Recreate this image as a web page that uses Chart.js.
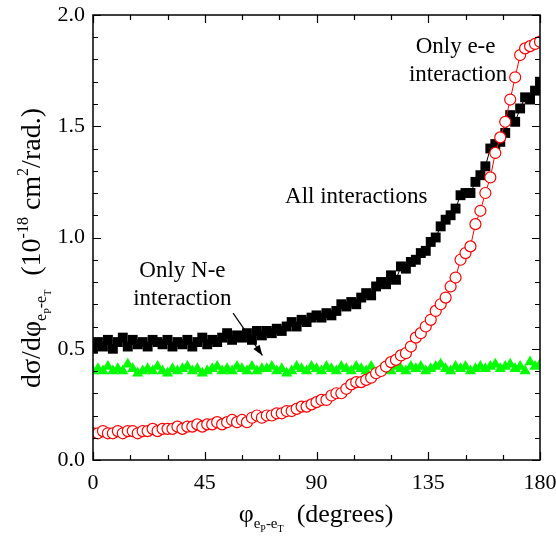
<!DOCTYPE html>
<html>
<head>
<meta charset="utf-8">
<script src="https://cdn.jsdelivr.net/npm/chart.js@4/dist/chart.umd.min.js"></script>
<style>
  body { margin: 0; background: #fff; }
  #wrap { width: 556px; height: 540px; }
</style>
</head>
<body>
<div id="wrap"><canvas id="c"></canvas></div>
<script>
const angles = [0, 2, 4, 6, 8, 10, 12, 14, 16, 18, 20, 22, 24, 26, 28, 30, 32, 34, 36, 38,
  40, 42, 44, 46, 48, 50, 52, 54, 56, 58, 60, 62, 64, 66, 68, 70, 72, 74, 76, 78,
  80, 82, 84, 86, 88, 90, 92, 94, 96, 98, 100, 102, 104, 106, 108, 110, 112, 114, 116, 118,
  120, 122, 124, 126, 128, 130, 132, 134, 136, 138, 140, 142, 144, 146, 148, 150, 152, 154, 156, 158,
  160, 162, 164, 166, 168, 170, 172, 174, 176, 178, 180];

const allInteractions = [0.50, 0.53, 0.51, 0.54, 0.50, 0.53, 0.55, 0.51, 0.54, 0.52, 0.53, 0.51, 0.54, 0.53, 0.52, 0.54, 0.51, 0.53, 0.52, 0.54,
  0.51, 0.53, 0.55, 0.52, 0.54, 0.53, 0.55, 0.57, 0.54, 0.56, 0.55, 0.57, 0.54, 0.58, 0.56, 0.58, 0.57, 0.59, 0.58, 0.60,
  0.62, 0.60, 0.63, 0.62, 0.64, 0.65, 0.64, 0.66, 0.65, 0.67, 0.70, 0.69, 0.71, 0.70, 0.73, 0.75, 0.74, 0.78, 0.80, 0.79,
  0.83, 0.81, 0.87, 0.86, 0.89, 0.90, 0.93, 0.94, 0.98, 1.00, 1.05, 1.08, 1.10, 1.13, 1.19, 1.20, 1.20, 1.25, 1.28, 1.32,
  1.40, 1.42, 1.43, 1.47, 1.55, 1.52, 1.58, 1.63, 1.62, 1.66, 1.70];

const onlyEE = [0.12, 0.12, 0.13, 0.12, 0.12, 0.13, 0.12, 0.13, 0.13, 0.12, 0.13, 0.13, 0.14, 0.13, 0.14, 0.14, 0.14, 0.15, 0.14, 0.15,
  0.15, 0.16, 0.15, 0.16, 0.16, 0.17, 0.16, 0.17, 0.18, 0.17, 0.18, 0.17, 0.19, 0.20, 0.19, 0.20, 0.20, 0.21, 0.21, 0.22,
  0.22, 0.23, 0.24, 0.24, 0.25, 0.26, 0.27, 0.27, 0.29, 0.30, 0.30, 0.32, 0.34, 0.35, 0.35, 0.36, 0.37, 0.39, 0.40, 0.42,
  0.44, 0.45, 0.47, 0.48, 0.51, 0.55, 0.57, 0.60, 0.63, 0.67, 0.70, 0.73, 0.78, 0.82, 0.90, 0.93, 0.96, 1.06, 1.12, 1.20,
  1.27, 1.38, 1.45, 1.52, 1.62, 1.72, 1.82, 1.85, 1.86, 1.87, 1.88];

const onlyNE = [0.40, 0.41, 0.40, 0.42, 0.40, 0.41, 0.40, 0.43, 0.41, 0.39, 0.40, 0.41, 0.40, 0.42, 0.40, 0.39, 0.41, 0.40, 0.41, 0.42,
  0.40, 0.41, 0.39, 0.40, 0.41, 0.42, 0.40, 0.41, 0.40, 0.42, 0.41, 0.40, 0.42, 0.40, 0.41, 0.41, 0.42, 0.40, 0.41, 0.39,
  0.40, 0.42, 0.41, 0.40, 0.42, 0.41, 0.40, 0.42, 0.41, 0.40, 0.42, 0.41, 0.40, 0.42, 0.41, 0.40, 0.42, 0.39, 0.41, 0.42,
  0.40, 0.42, 0.41, 0.40, 0.42, 0.41, 0.42, 0.40, 0.41, 0.42, 0.43, 0.41, 0.40, 0.42, 0.41, 0.42, 0.40, 0.41, 0.42, 0.41,
  0.42, 0.43, 0.41, 0.42, 0.43, 0.41, 0.42, 0.40, 0.44, 0.42, 0.43];

const xTicks = [0, 45, 90, 135, 180];
const yTicks = [0.0, 0.5, 1.0, 1.5, 2.0];

const FONT = '"Liberation Serif", "Times New Roman", serif';

function pts(ys) {
  return ys.map((y, i) => ({ x: angles[i], y: y }));
}

// draw text made of pieces (sub/superscripts) centred on x
function drawRich(ctx, x, y, segs) {
  let w = 0;
  segs.forEach(s => { ctx.font = s.s + 'px ' + FONT; w += ctx.measureText(s.t).width; });
  let cx = x - w / 2;
  ctx.textAlign = 'left';
  ctx.textBaseline = 'alphabetic';
  segs.forEach(s => {
    ctx.font = s.s + 'px ' + FONT;
    ctx.fillText(s.t, cx, y + s.dy);
    cx += ctx.measureText(s.t).width;
  });
}

const decor = {
  id: 'decor',
  afterDatasetsDraw(chart) {
    const ctx = chart.ctx;
    const xs = chart.scales.x, ys = chart.scales.y;
    const a = chart.chartArea;
    ctx.save();
    ctx.strokeStyle = '#000';
    ctx.fillStyle = '#000';
    ctx.lineWidth = 1.5;
    ctx.strokeRect(a.left, a.top, a.right - a.left, a.bottom - a.top);

    // inward ticks on all four sides
    ctx.lineWidth = 1.2;
    ctx.beginPath();
    for (let v = 0; v <= 180; v += 15) {
      const px = Math.round(xs.getPixelForValue(v)) + 0.5;
      const len = v % 45 === 0 ? 8 : 5;
      ctx.moveTo(px, a.bottom); ctx.lineTo(px, a.bottom - len);
      ctx.moveTo(px, a.top); ctx.lineTo(px, a.top + len);
    }
    for (let k = 0; k <= 20; k++) {
      const py = Math.round(ys.getPixelForValue(k / 10)) + 0.5;
      const len = k % 5 === 0 ? 8 : 5;
      ctx.moveTo(a.left, py); ctx.lineTo(a.left + len, py);
      ctx.moveTo(a.right, py); ctx.lineTo(a.right - len, py);
    }
    ctx.stroke();

    // annotations
    ctx.textAlign = 'center';
    ctx.textBaseline = 'middle';
    ctx.font = '23px ' + FONT;
    const lab = (t, xv, yv) => ctx.fillText(t, xs.getPixelForValue(xv), ys.getPixelForValue(yv));
    lab('Only e-e', 146, 1.855);
    lab('interaction', 147, 1.73);
    lab('All interactions', 106, 1.18);
    lab('Only N-e', 36, 0.85);
    lab('interaction', 36, 0.725);

    // arrow
    const x0 = xs.getPixelForValue(56.4), y0 = ys.getPixelForValue(0.66);
    const x1 = xs.getPixelForValue(68.2), y1 = ys.getPixelForValue(0.47);
    ctx.lineWidth = 1.2;
    ctx.beginPath(); ctx.moveTo(x0, y0); ctx.lineTo(x1, y1); ctx.stroke();
    const ang = Math.atan2(y1 - y0, x1 - x0);
    ctx.beginPath();
    ctx.moveTo(x1, y1);
    ctx.lineTo(x1 - 11 * Math.cos(ang - 0.35), y1 - 11 * Math.sin(ang - 0.35));
    ctx.lineTo(x1 - 11 * Math.cos(ang + 0.35), y1 - 11 * Math.sin(ang + 0.35));
    ctx.closePath(); ctx.fill();

    // axis titles
    drawRich(ctx, 316, 522, [
      { t: 'φ', s: 26, dy: 0 },
      { t: 'e', s: 15, dy: 6 }, { t: 'P', s: 10, dy: 10 },
      { t: '-e', s: 15, dy: 6 }, { t: 'T', s: 10, dy: 10 },
      { t: '  (degrees)', s: 26, dy: 0 }
    ]);
    ctx.save();
    ctx.translate(40, 248);
    ctx.rotate(-Math.PI / 2);
    drawRich(ctx, 0, 0, [
      { t: 'dσ/dφ', s: 28, dy: 0 },
      { t: 'e', s: 16, dy: 6 }, { t: 'P', s: 10, dy: 11 },
      { t: '-e', s: 16, dy: 6 }, { t: 'T', s: 10, dy: 11 },
      { t: '  (10', s: 28, dy: 0 }, { t: '-18', s: 16, dy: -12 },
      { t: ' cm', s: 28, dy: 0 }, { t: '2', s: 16, dy: -12 },
      { t: '/rad.)', s: 28, dy: 0 }
    ]);
    ctx.restore();
    ctx.restore();
  }
};

new Chart(document.getElementById('c'), {
  type: 'scatter',
  data: {
    datasets: [
      {
        label: 'Only e-e interaction',
        data: pts(onlyEE),
        showLine: true,
        borderColor: 'rgb(255,0,0)',
        borderWidth: 1,
        backgroundColor: '#fff',
        pointStyle: 'circle',
        pointRadius: 5.5,
        pointBorderWidth: 1.2,
        pointBorderColor: 'rgb(255,0,0)',
        pointBackgroundColor: '#fff',
        order: 0
      },
      {
        label: 'All interactions',
        data: pts(allInteractions),
        showLine: true,
        borderColor: '#000',
        borderWidth: 1,
        backgroundColor: '#000',
        pointStyle: 'rect',
        pointRadius: 7,
        pointBorderWidth: 0,
        pointBackgroundColor: '#000',
        order: 1
      },
      {
        label: 'Only N-e interaction',
        data: pts(onlyNE),
        showLine: false,
        pointStyle: 'triangle',
        pointRadius: 6.5,
        pointBorderWidth: 0,
        pointBackgroundColor: 'rgb(0,255,0)',
        backgroundColor: 'rgb(0,255,0)',
        order: 2
      }
    ]
  },
  options: {
    responsive: true,
    maintainAspectRatio: false,
    animation: false,
    layout: { padding: { left: 0, right: 16, top: 15, bottom: 0 } },
    plugins: { legend: { display: false }, tooltip: { enabled: false } },
    scales: {
      x: {
        type: 'linear', min: 0, max: 180,
        afterBuildTicks: s => { s.ticks = xTicks.map(v => ({ value: v })); },
        afterFit: s => { s.height = 80; s.paddingLeft = 0; s.paddingRight = 0; },
        grid: { display: false, drawTicks: false },
        border: { display: false },
        ticks: { color: '#000', padding: 10, maxRotation: 0, font: { family: FONT, size: 22 } }
      },
      y: {
        type: 'linear', min: 0, max: 2,
        afterBuildTicks: s => { s.ticks = yTicks.map(v => ({ value: v })); },
        afterFit: s => { s.width = 93; s.paddingTop = 0; s.paddingBottom = 0; },
        grid: { display: false, drawTicks: false },
        border: { display: false },
        ticks: { color: '#000', padding: 8, font: { family: FONT, size: 22 }, callback: v => v.toFixed(1) }
      }
    }
  },
  plugins: [decor]
});
</script>
</body>
</html>
